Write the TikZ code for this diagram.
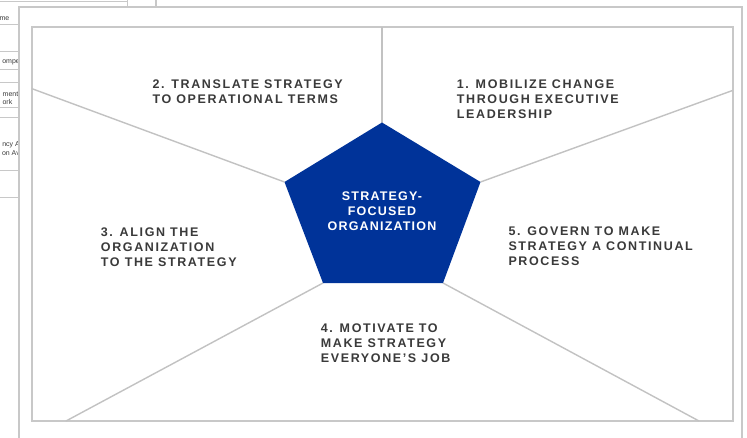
\documentclass[tikz,border=0pt]{standalone}
\usepackage{fontspec}
\setmainfont{Liberation Sans}
\newfontfamily\themefont[LetterSpace=13]{Liberation Sans}
\newfontfamily\corefont[LetterSpace=9.5]{Liberation Sans}

\definecolor{sfoblue}{HTML}{003399}
\definecolor{themegray}{HTML}{3A3A3A}
\definecolor{framegray}{HTML}{C8C8C8}
\definecolor{spokegray}{HTML}{C2C2C2}

\begin{document}
\begin{tikzpicture}[x=1pt, y=-1pt,
  frame/.style = {draw=framegray, line width=2pt},
  spoke/.style = {draw=spokegray, line width=1.4pt},
  theme/.style = {inner sep=0pt, anchor=base west, align=left,
    text=themegray, font=\themefont\bfseries\fontsize{12.5}{15}\selectfont},
  core/.style = {inner sep=0pt, align=center, text=white,
    font=\corefont\bfseries\fontsize{12.5}{15}\selectfont},
  cell/.style = {inner sep=0pt, anchor=base east, text=themegray,
    font=\fontsize{7}{8}\selectfont},
  rule/.style = {draw=framegray, line width=0.8pt}
  ]
  \useasboundingbox (0,0) rectangle (747,437);

  % slide lying behind
  \foreach \y in {24,51,69,82,107,117,170,197}
    \draw[rule] (0,\y) -- (19,\y);
  \draw[rule] (0,1.5) -- (127,1.5);
  \draw[rule] (127,0) -- (127,7);
  \draw[frame] (156,0) -- (156,7);
  \node[cell] (name) at (9.5,20.5) {me};
  \node[cell] (compe) at (20,63.5) {ompe};
  \node[cell] (ment) at (18.5,96.5) {ment};
  \node[cell] (work) at (12.5,104.5) {ork};
  \node[cell] (ncy) at (20,146.5) {ncy A};
  \node[cell] (onav) at (20,155) {on Av};

  % panel and frame
  \filldraw[fill=white, frame] (19,7) rectangle (742,445);
  \draw[frame] (31.5,27) rectangle (732.5,421);

  % pentagon corners
  \coordinate (ptop) at (382,122.5);
  \coordinate (pleft) at (284.5,182);
  \coordinate (pright) at (480.5,182);
  \coordinate (plowleft) at (323,283);
  \coordinate (plowright) at (443,283);

  % spoke ends on the frame
  \coordinate (etop) at (382,27);
  \coordinate (eleft) at (31.5,88.5);
  \coordinate (eright) at (732.5,90.5);
  \coordinate (elowleft) at (66,421);
  \coordinate (elowright) at (699,421);

  \draw[spoke] (ptop) -- (etop);
  \draw[spoke] (pleft) -- (eleft);
  \draw[spoke] (pright) -- (eright);
  \draw[spoke] (plowleft) -- (elowleft);
  \draw[spoke] (plowright) -- (elowright);

  \fill[sfoblue] (ptop) -- (pright) -- (plowright) -- (plowleft) -- (pleft) -- cycle;
  \node[core] (sfo) at (382,211) {STRATEGY-\\FOCUSED\\ORGANIZATION};

  % the five themes (anchored on the baseline of their last line)
  \node[theme] (mobilize) at (456.7,118.5)
    {1. MOBILIZE CHANGE\\THROUGH EXECUTIVE\\LEADERSHIP};
  \node[theme] (translate) at (152.3,103.8)
    {2. TRANSLATE STRATEGY\\TO OPERATIONAL TERMS};
  \node[theme] (align) at (100.7,266)
    {3. ALIGN THE\\ORGANIZATION\\TO THE STRATEGY};
  \node[theme] (motivate) at (320.7,362.5)
    {4. MOTIVATE TO\\MAKE STRATEGY\\EVERYONE’S JOB};
  \node[theme] (govern) at (508.3,265.5)
    {5. GOVERN TO MAKE\\STRATEGY A CONTINUAL\\PROCESS};
\end{tikzpicture}
\end{document}
